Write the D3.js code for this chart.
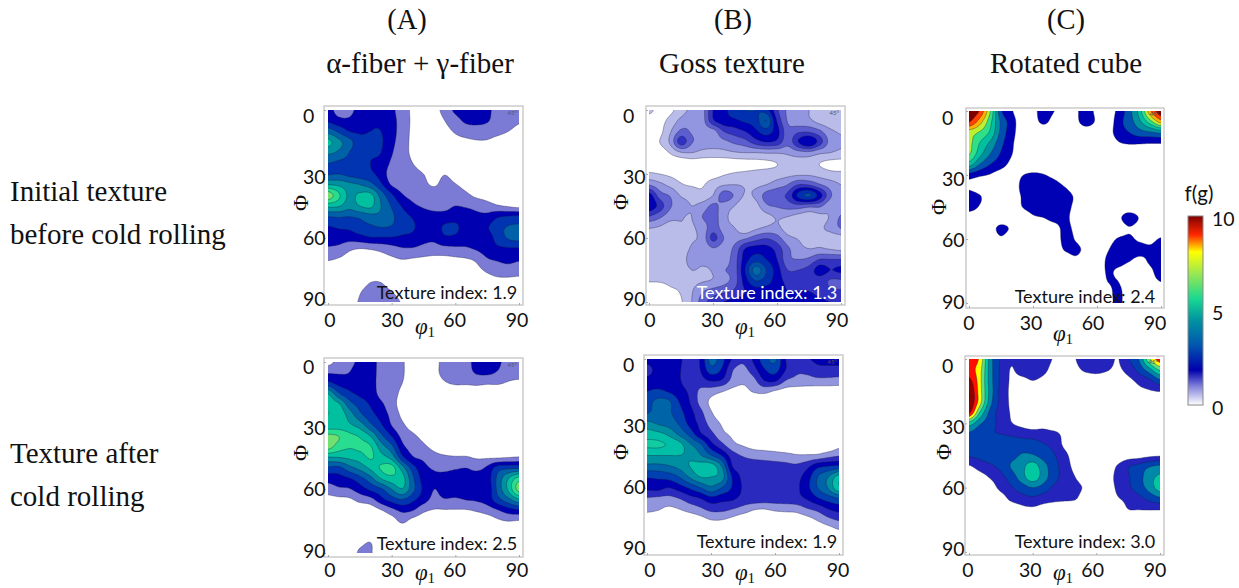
<!DOCTYPE html>
<html><head><meta charset="utf-8">
<script src="https://cdn.jsdelivr.net/npm/d3@7"></script>
<style>html,body{margin:0;background:#fff}svg{display:block}</style></head>
<body><svg id="c" width="1239" height="588"></svg>
<script>
// Contour-level readings on a 5 degree grid (rows: Phi 0..90, columns: phi1 0..90)
const gridA1=[
[2.3,1.7,1.7,2.4,2.7,2.6,2.2,1.5,.8,.5,.6,1.4,2.2,2.6,2.6,2.2,1.7,1.5,1.5],
[2.8,2.3,2.2,2.7,2.9,2.8,2.3,1.6,.8,.4,.4,1.0,1.6,2.2,2.3,2.1,1.5,1.3,1.1],
[4.6,3.8,3.0,2.9,3.0,3.0,2.4,1.5,.8,.4,.3,.7,1.1,1.4,1.5,1.4,1.2,1.0,.8],
[6.3,5.3,4.4,3.3,3.2,3.1,2.3,1.4,.8,.4,.3,.5,.7,.8,.9,.9,.7,.6,.5],
[5.2,4.8,4.0,3.2,3.1,3.0,2.1,1.2,.9,.4,.3,.3,.4,.5,.5,.5,.4,.4,.3],
[4.0,3.8,3.6,3.1,3.0,2.7,1.8,1.2,1.0,.6,.3,.3,.3,.3,.3,.3,.3,.3,.3],
[3.9,4.0,3.7,3.4,3.2,2.6,1.5,1.4,1.25,1.0,.6,.95,.6,.4,.3,.3,.3,.3,.3],
[6.0,5.8,5.3,5.0,4.4,3.2,1.9,1.5,1.4,1.2,.9,1.3,1.05,.7,.4,.3,.3,.3,.3],
[8.6,7.2,5.8,6.2,6.3,4.6,3.2,2.1,1.7,1.6,1.5,1.5,1.5,1.2,.8,.6,.4,.4,.4],
[6.3,6.1,5.4,6.0,6.2,5.0,3.9,2.9,2.2,1.9,1.8,1.8,2.0,1.9,1.7,1.4,1.1,.9,.7],
[4.0,4.1,4.0,4.2,4.6,4.7,4.2,3.4,2.9,2.4,2.2,2.3,2.4,2.4,2.2,2.3,2.9,3.1,3.2],
[2.9,3.1,3.2,3.6,3.8,4.0,3.9,3.4,3.1,2.6,2.4,3.2,3.3,2.3,2.3,2.9,3.6,4.1,4.2],
[2.3,2.5,2.4,2.6,2.9,2.9,2.9,2.8,2.7,2.3,2.2,2.8,2.7,2.2,2.2,2.5,3.4,4.1,4.3],
[1.9,1.7,1.2,1.0,1.1,1.3,1.6,1.9,1.9,1.7,1.6,1.7,1.8,1.9,2.1,2.5,2.8,2.9,2.9],
[1.1,.9,.6,.4,.4,.6,.8,1.0,.9,.8,.7,.7,.8,.9,1.2,1.9,2.1,2.2,2.1],
[.3,.3,.3,.3,.3,.3,.3,.3,.3,.3,.3,.3,.3,.3,.7,1.2,1.6,1.7,1.6],
[.3,.3,.3,.4,.9,.9,.4,.3,.3,.3,.3,.3,.3,.3,.3,.5,.7,.7,.6],
[.3,.3,.3,.9,1.4,1.4,1.0,.6,.3,.3,.3,.3,.3,.3,.3,.3,.3,.3,.3],
[.3,.3,.6,1.1,1.6,1.6,1.3,.9,.3,.3,.3,.3,.3,.3,.3,.3,.3,.3,.3]];
const gridB1=[
[1.2,.7,.8,1.5,2.3,2.6,5.0,5.7,6.5,7,7,6.5,4.2,2.8,2.4,2,1.5,1.4,1.5],
[.6,.7,1.3,2.3,2.8,2.6,4.8,5.6,5.8,6.2,6.5,8.0,4.9,2.9,2.3,2.2,1.6,1.3,1.5],
[.3,.7,1.9,3.2,2.9,2.6,2.6,4.0,4.5,5.0,5.8,6.5,5.4,3.4,3.8,3.8,3.2,2.2,1.9],
[.3,1.0,2.2,4.5,3.1,2.6,2.5,2.7,3.2,3.6,4.5,5.0,4.7,3.4,5,6,4.5,2.6,2.1],
[.2,.4,1.1,1.9,2.0,1.7,1.6,1.7,1.9,2.0,2.0,2.1,2.1,2.2,2.6,2.7,2.2,2.0,1.8],
[.2,.2,.3,.3,.4,.4,.4,.4,.5,.6,.7,.8,1.0,1.4,1.5,1.4,1.0,.7,.6],
[1.2,1.0,.8,.6,.5,.5,.6,.9,1.1,1.2,1.3,1.4,1.5,1.7,1.8,1.8,1.6,1.3,1.2],
[2.9,2.3,1.7,1.1,.9,.9,1.5,1.9,2.0,1.9,1.8,2.0,2.5,3.0,4.0,3.9,3.1,2.5,2.0],
[5.5,3.5,2.9,1.9,1.6,1.3,2.0,3.5,2.9,1.9,2.2,3.4,3.8,4.2,6.3,7.2,5.5,3.2,2.1],
[5.8,4.6,3.1,2.6,2.0,2.4,3.2,2.6,2.0,1.2,1.6,2.8,3.1,3.4,3.6,3.3,3.2,2.2,2.2],
[3.9,3.2,2.4,2.1,2.0,3.0,3.4,2.4,1.5,1.1,1.2,1.7,2.1,2.0,1.6,1.3,1.7,2.1,3.1],
[2.1,1.9,1.5,1.9,1.9,2.4,3.5,2.5,2.0,1.2,1.7,2.1,2.2,1.5,1.2,1.2,1.8,2.3,3.1],
[1.5,1.5,1.4,1.5,1.9,2.3,4.3,3.0,2.6,2.8,3.5,3.9,3.4,2.3,1.9,1.4,1.9,1.6,1.6],
[1.4,1.4,1.4,1.5,2.1,2.2,2.9,2.6,3.2,5.0,5.5,5.4,4.6,3.2,2.4,2.0,2.1,1.9,1.7],
[1.9,1.7,1.2,1.5,2.4,2.2,2.4,2.5,3.5,5.5,6.5,6.0,5.0,3.3,3.0,3.2,4.0,4.0,4.0],
[1.9,1.6,1.2,1.5,2.0,1.9,2.1,2.9,3.5,6,8.5,7,5.5,4.0,4.0,4.4,5.5,5.0,5.2],
[1.1,1.1,1.2,1.3,1.7,1.9,2.1,2.6,3.5,5.5,7,6.5,5.5,4.7,4.6,4.5,4.5,3.9,3.9],
[.3,.4,.8,1.1,1.9,2.9,3.4,3.8,4.2,5,5.5,5.5,5.5,5.0,5,5,4.7,4.2,4.1],
[.2,.2,.4,.9,2.0,3.5,4.5,5,5.3,5.3,5.3,5.3,5.3,5.3,5.3,5.3,5.2,5,5]];
const gridC1=[
[9.8,8.9,6,2.2,1.1,.4,.7,1.4,1.0,.4,.8,1.5,.7,.4,1.3,2.6,4.5,7.8,9.8],
[9.1,7.5,5.3,2.8,1.5,.4,.6,1.2,.6,.3,.7,1.5,.8,.3,1.6,2.5,3.8,5.6,7.5],
[6.5,5.9,4.8,2.7,1.4,.4,.3,.3,.3,.3,.3,.3,.3,.5,1.5,2.0,2.6,2.9,3.3],
[6.3,5.0,3.8,2.3,1.2,.3,.3,.3,.3,.3,.3,.3,.3,.3,.9,1.1,1.1,1.05,1.05],
[6.1,4.4,3.0,1.9,1.05,.3,.3,.3,.3,.3,.3,.3,.3,.3,.3,.3,.3,.3,.3],
[4.5,3,2.0,1.4,.7,.2,.2,.2,.2,.2,.2,.2,.2,.2,.2,.2,.2,.2,.2],
[1.6,1.2,.9,.5,.3,.95,1.2,1.05,.7,.2,.2,.2,.2,.2,.2,.2,.2,.2,.2],
[.7,.2,.2,.2,.2,1.3,1.6,1.5,1.4,.9,.3,.2,.2,.2,.2,.2,.2,.2,.2],
[1.6,1.1,.3,.2,.3,1.1,1.6,1.7,1.6,1.5,.8,.2,.2,.2,.2,.2,.2,.2,.2],
[1.5,.9,.3,.2,.2,1.0,1.5,1.7,1.6,1.4,.7,.2,.2,.2,.2,.2,.2,.2,.2],
[.3,.2,.2,.2,.2,.2,.8,1.0,1.4,1.3,.5,.2,.2,.2,.7,1.6,.9,.2,.2],
[.2,.2,.5,1.3,.8,.2,.2,.2,.5,1.3,.7,.2,.2,.2,.3,.9,.5,.2,.2],
[.2,.2,.2,.8,.2,.2,.2,.2,.2,1.4,.9,.2,.2,.5,1.1,1.2,.8,.7,1.1],
[.2,.2,.2,.2,.2,.2,.2,.2,.2,1.1,1.3,.6,.2,.9,1.6,1.6,1.4,1.2,1.6],
[.2,.2,.2,.2,.2,.2,.2,.2,.2,.2,.7,.2,.2,1.2,1.5,1.1,.7,1.2,1.5],
[.2,.2,.2,.2,.2,.2,.2,.2,.2,.2,.2,.2,.4,1.1,.8,.3,.3,.8,1.5],
[.2,.2,.2,.2,.2,.2,.2,.2,.2,.2,.2,.2,.2,1.0,1.0,.2,.2,.6,1.0],
[.2,.2,.2,.2,.2,.2,.2,.2,.2,.2,.2,.2,.2,.6,1.3,.2,.2,.2,.2],
[.2,.2,.2,.2,.2,.2,.2,.2,.2,.2,.2,.2,.2,.5,1.3,.2,.2,.2,.2]];
const gridA2=[
[.7,1.3,1.6,2.3,2.5,1.6,1.4,1.1,.5,.4,.7,1.3,1.5,1.7,2.3,2.6,2.2,1.6,1.5],
[1.9,1.9,2.0,2.7,2.5,1.6,1.4,1.1,.5,.4,.7,1.3,1.4,1.6,2.1,2.2,1.9,1.4,1.3],
[3.3,2.7,2.5,2.4,2.4,1.6,1.3,1.0,.5,.4,.5,.9,1.1,1.1,1.2,1.1,1.1,.9,.8],
[6.0,4.2,3.3,2.8,2.5,1.7,1.3,.8,.3,.3,.3,.3,.3,.3,.3,.3,.3,.3,.3],
[6.8,6.2,4.5,3.6,2.9,2.2,1.4,.6,.3,.3,.3,.3,.3,.3,.3,.3,.3,.3,.3],
[7,6.7,5.6,4.3,3.4,2.6,1.7,.8,.3,.3,.3,.3,.3,.3,.3,.3,.3,.3,.3],
[6.5,6.5,6.2,5.6,4.3,3.2,2.0,1.2,.6,.2,.2,.2,.2,.2,.2,.2,.2,.2,.2],
[8.3,8.0,7.3,6.9,6.0,4.3,3.0,1.7,1.2,.7,.2,.2,.2,.2,.2,.2,.2,.2,.2],
[8.4,7.5,7.1,7.2,7.1,5.5,4.3,2.3,1.6,1.2,.7,.3,.3,.3,.3,.3,.3,.3,.3],
[5.9,6,6.2,6.5,7.1,6.4,5.6,3.3,2.1,1.8,1.4,1.2,1.1,1.1,.9,.9,.9,1.0,1.1],
[3.8,3.7,4.6,5.3,6.2,7.1,7.4,5.5,3.5,2.3,1.9,1.8,1.9,2.0,1.8,2.2,3.5,3.8,3.9],
[2.4,2.6,2.9,3.6,4.6,6.0,6.6,6.4,4.2,2.6,2.2,2.3,2.5,2.5,2.4,2.5,4.3,6,7.5],
[1.5,1.8,1.9,2.5,3.2,3.8,5.0,5.9,4.3,2.8,2.0,2.4,2.6,2.6,2.4,2.3,4.3,6.2,8.4],
[.6,.7,.8,1.3,1.6,2.6,3.4,3.9,3.2,2.4,1.7,1.9,1.8,2.0,2.1,2.4,3.6,4.6,5.7],
[.2,.2,.2,.2,.4,.9,1.6,2.2,2.0,1.2,.9,.9,.9,.9,1.1,1.4,1.9,2.5,2.8],
[.2,.2,.2,.2,.2,.2,.5,1.2,.6,.3,.2,.2,.2,.2,.2,.4,.8,1.0,.9],
[.2,.2,.2,.2,.2,.2,.2,.2,.2,.2,.2,.2,.2,.2,.2,.2,.2,.2,.2],
[.2,.2,.2,.7,1.0,.2,.2,.2,.2,.2,.2,.2,.2,.2,.2,.2,.2,.2,.2],
[.2,.2,.2,1.2,1.1,.3,.2,.2,.2,.2,.2,.2,.2,.2,.2,.2,.2,.2,.2]];
const gridB2=[
[3.4,3.4,3.4,3.2,2.5,3.1,5.4,4.4,2.9,2.2,3.2,4.6,5.2,3.0,2.5,2.9,3.2,3.3,3.3],
[2.7,3.3,3.4,3.1,2.5,3.0,4.6,3.9,2.1,1.7,2.6,3.9,4.4,3.0,2.2,2.3,2.7,2.7,2.7],
[3.3,3.4,3.4,3.1,2.5,2.6,3.1,2.9,1.7,1.2,1.7,3.0,3.2,2.0,1.7,1.6,1.7,1.7,1.6],
[4.0,4.2,3.9,3.4,2.8,1.8,1.5,1.1,.7,.7,1.1,1.3,.9,.6,.5,.5,.4,.4,.4],
[4.6,5.3,5.2,4.0,3.0,1.7,.8,.3,.2,.2,.2,.2,.3,.2,.2,.2,.2,.2,.2],
[4.9,5.4,5.2,4.4,3.4,2.3,1.1,.5,.2,.2,.2,.2,.2,.2,.2,.2,.2,.2,.2],
[6.3,5.9,5.6,4.9,3.7,2.7,1.6,.9,.4,.2,.2,.2,.2,.2,.2,.2,.2,.2,.2],
[7.5,7.3,6.8,5.8,4.7,3.2,2.3,1.3,.8,.3,.2,.2,.2,.2,.2,.2,.2,.2,.2],
[8.2,8.2,7.9,7.4,6.2,5.2,3.4,2.3,1.3,.9,.6,.5,.4,.2,.2,.2,.2,.2,.7],
[7.0,7.0,7.0,7.0,6.8,6.1,5.1,4.0,2.5,1.9,1.6,1.5,1.4,1.3,1.1,1.1,1.2,1.6,1.9],
[5.7,5.7,5.9,6.3,7.0,7.4,7.5,6.0,3.0,2.7,2.6,2.5,2.4,2.3,2.2,2.7,3.7,4.0,4.2],
[4.1,4.2,4.4,5.0,6.1,7.0,7.0,6.5,3.9,2.8,2.7,2.7,2.7,2.7,2.7,3.5,5,6,7.5],
[3.3,3.4,3.0,3.5,4.2,5.0,5.8,5.0,3.9,2.9,2.8,2.8,2.8,2.8,2.8,3.7,5,6.1,7.8],
[1.9,1.8,1.7,2.0,2.6,3.0,3.7,3.4,3.2,2.7,2.7,2.6,2.6,2.6,2.7,3.1,3.9,4.5,5.0],
[1.3,1.1,.8,1.0,1.4,1.8,2.3,2.3,2.0,1.6,1.1,1.0,1.2,1.3,1.4,1.9,2.3,3,3.4],
[.3,.3,.3,.3,.3,.6,1.0,1.0,.7,.3,.3,.3,.3,.3,.3,.6,1.1,1.7,2.1],
[.2,.2,.2,.2,.2,.2,.2,.2,.2,.2,.2,.2,.2,.2,.2,.2,.2,.5,.9],
[.2,.2,.2,.2,.2,.2,.2,.2,.2,.2,.2,.2,.2,.2,.2,.2,.2,.2,.2],
[.2,.2,.2,.2,.2,.2,.2,.2,.2,.2,.2,.2,.2,.2,.2,.2,.2,.2,.2]];
const gridC2=[
[7.6,6.8,3.5,1.9,1.1,1.6,1.8,1.5,.9,.5,.95,1.7,1.9,1.5,.95,1.9,3,5.8,7.6],
[7.4,6.4,3.5,1.8,.95,1.5,1.7,1.3,.6,.4,.7,1.2,1.4,1.1,.8,1.4,2.3,3.6,5.2],
[8.3,6.4,3.5,1.8,.85,.7,1.0,.7,.3,.3,.3,.3,.3,.3,.3,.7,1.3,1.8,2.8],
[9,6.5,3.6,1.7,.8,.4,.2,.2,.2,.2,.2,.2,.2,.2,.2,.2,.7,.9,1.05],
[9,6.5,3.4,1.7,.8,.2,.2,.2,.2,.2,.2,.2,.2,.2,.2,.2,.2,.2,.2],
[8.2,5.0,2.7,1.6,.9,.4,.2,.2,.2,.2,.2,.2,.2,.2,.2,.2,.2,.2,.2],
[4.6,3.2,2.4,1.7,1.05,.7,.4,.6,.2,.2,.2,.2,.2,.2,.2,.2,.2,.2,.2],
[2.8,2.4,2.1,2.0,1.8,1.6,1.5,1.4,1.3,.7,.2,.2,.2,.2,.2,.2,.2,.2,.2],
[2.6,2.7,2.8,2.8,2.7,2.6,2.5,2.1,1.7,.8,.3,.2,.2,.2,.2,.2,.2,.2,.2],
[2.1,2.3,2.6,2.6,2.7,3.1,3.1,2.6,2.1,1.3,.5,.2,.2,.2,.2,.5,.6,.8,.9],
[.9,1.4,1.8,2.3,3.1,3.7,4.5,3.4,2.4,1.5,.7,.2,.2,.3,1.1,1.9,2.3,2.9,3.2],
[.3,.6,1.1,1.7,2.5,3.6,4.6,3.5,2.4,1.6,1.0,.4,.2,.5,1.3,1.9,2.6,3.6,4.2],
[.2,.2,.5,1.3,1.9,2.5,3.0,2.6,1.8,1.5,1.3,.8,.2,.4,1.2,1.8,2.5,3.4,4.5],
[.2,.2,.2,.5,1.3,1.6,1.8,1.5,1.3,1.2,1.1,.4,.2,.3,.9,1.3,1.7,2.3,2.8],
[.2,.2,.2,.2,.3,.7,.8,.6,.4,.3,.2,.2,.2,.2,.3,1.0,1.05,1.1,1.1],
[.2,.2,.2,.2,.2,.2,.2,.2,.2,.2,.2,.2,.2,.2,.2,.2,.2,.2,.2],
[.2,.2,.2,.2,.2,.2,.2,.2,.2,.2,.2,.2,.2,.2,.2,.2,.2,.2,.2],
[.2,.2,.2,.2,.2,.2,.2,.2,.2,.2,.2,.2,.2,.2,.2,.2,.2,.2,.2],
[.2,.2,.2,.2,.2,.2,.2,.2,.2,.2,.2,.2,.2,.2,.2,.2,.2,.2,.2]];
const tickValues=[0,30,60,90];
const columnTitles=["(A)","(B)","(C)"];
const columnSubtitles=["α-fiber + γ-fiber","Goss texture","Rotated cube"];
const rowLabels=[["Initial texture","before cold rolling"],["Texture after","cold rolling"]];
const textureIndex=["Texture index: 1.9","Texture index: 1.3","Texture index: 2.4","Texture index: 2.5","Texture index: 1.9","Texture index: 3.0"];
const barStops=[0,1,1.85,3.2,4.5,5.6,7,8.1,9,10];
const barColors=["#ffffff","#7f80da","#0000ac","#0058b0","#0094a0","#18d892","#9fe850","#ffff00","#ff2800","#800000"];
const bandsAlpha=['#7b7bd6','#0000b0','#0034b0','#0060a8','#0090a0','#00c0a0','#28dc90','#70e070','#a0e850'];
const bandsGoss1=['#b9bce8','#9295df','#5c5ecf','#3232c2','#0000b4','#0030b0','#0050a8','#006aa8','#0090a0'];
const bandsGoss2=['#9195de','#2a2abf','#0000b0','#0040b0','#0064a8','#008fa0','#00bfa6','#10cca0','#20d8a0'];
const bandsCube1=['#0000b4','#0050b0','#0090a0','#00c0a0','#30e088','#bcf030','#ffb000','#ff4000','#800000'];
const bandsCube2=['#2424bc','#0040b0','#0088a8','#00c8a0','#60e080','#ffff00','#ff1000','#900000','#800000'];

const panels=[
 {g:gridA1,b:bandsAlpha,t:0,fr:[324,106,523,305],d:[328,110,519,302],xl:[330,517],xy:320,yl:[116,299],yx:303,ph:[425,328],Ph:[300,203],ti:[447,293],tc:"#111"},
 {g:gridB1,b:bandsGoss1,t:1,fr:[646,106,845,305],d:[649,110,841,302],xl:[650,837],xy:320,yl:[116,299],yx:623,ph:[745,328],Ph:[620,202],ti:[767,293],tc:"#fff"},
 {g:gridC1,b:bandsCube1,t:2,fr:[966,108,1164,308],d:[969,111,1161,303],xl:[969,1155],xy:323,yl:[118,302],yx:942,ph:[1063,335],Ph:[938,207],ti:[1085,297],tc:"#111"},
 {g:gridA2,b:bandsAlpha,t:3,fr:[324,358,523,557],d:[328,362,519,553],xl:[330,517],xy:570,yl:[367,551],yx:303,ph:[425,574],Ph:[300,453],ti:[447,544],tc:"#111"},
 {g:gridB2,b:bandsGoss2,t:4,fr:[644,355,843,555],d:[647,359,839,552],xl:[650,838],xy:570,yl:[365,548],yx:623,ph:[745,574],Ph:[620,452],ti:[767,542],tc:"#111"},
 {g:gridC2,b:bandsCube2,t:5,fr:[965,356,1164,555],d:[969,359,1160,552],xl:[968,1155],xy:570,yl:[366,549],yx:942,ph:[1063,574],Ph:[943,452],ti:[1085,542],tc:"#111"}
];

const svg=d3.select("#c");
const SERIF="'Liberation Serif','Times New Roman',serif", SANS="Lato,'Open Sans',sans-serif";
const UP=8;
function cubic(p0,p1,p2,p3,t){return p1+.5*t*(p2-p0+t*(2*p0-5*p1+4*p2-p3+t*(3*(p1-p2)+p3-p0)));}
function upsample(g){
  const n=g.length,m=(n-1)*UP+1,out=new Float64Array(m*m);
  const at=(r,c)=>g[Math.max(0,Math.min(n-1,r))][Math.max(0,Math.min(n-1,c))];
  for(let j=0;j<m;j++){const rf=j/UP,r=Math.min(n-2,Math.floor(rf)),tr=rf-r;
    for(let i=0;i<m;i++){const cf=i/UP,c=Math.min(n-2,Math.floor(cf)),tc=cf-c;
      const col=[-1,0,1,2].map(dr=>cubic(at(r+dr,c-1),at(r+dr,c),at(r+dr,c+1),at(r+dr,c+2),tc));
      out[j*m+i]=cubic(col[0],col[1],col[2],col[3],tr);}}
  return {v:out,m};
}
panels.forEach((p,k)=>{
  const X=d3.scaleLinear().domain([0,90]).range([p.d[0],p.d[2]]);
  const Y=d3.scaleLinear().domain([0,90]).range([p.d[1],p.d[3]]);
  const XL=d3.scaleLinear().domain([0,90]).range(p.xl);
  const YL=d3.scaleLinear().domain([0,90]).range(p.yl);
  const {v,m}=upsample(p.g);
  const step=90/(m-1);
  const proj=d3.geoTransform({point(x,y){this.stream.point(X((x-.5)*step),Y((y-.5)*step));}});
  const path=d3.geoPath(proj);
  const thresholds=p.b.map((_,i)=>i+1);
  const cid="clip"+k;
  svg.append("clipPath").attr("id",cid).append("rect").attr("x",p.d[0]).attr("y",p.d[1]).attr("width",p.d[2]-p.d[0]).attr("height",p.d[3]-p.d[1]);
  const G=svg.append("g").attr("clip-path",`url(#${cid})`).style("filter","blur(0.35px)");
  G.selectAll("path").data(d3.contours().size([m,m]).thresholds(thresholds)(Array.from(v)))
    .join("path").attr("d",path).attr("fill",(d,i)=>p.b[i])
    .attr("stroke","#1a1a40").attr("stroke-opacity",.6).attr("stroke-width",.6);
  svg.append("rect").attr("x",p.fr[0]).attr("y",p.fr[1]).attr("width",p.fr[2]-p.fr[0]).attr("height",p.fr[3]-p.fr[1])
    .attr("fill","none").attr("stroke","#c8c8c8").attr("stroke-width",1.4);
  svg.append("g").attr("transform",`translate(0,${p.fr[3]})`).call(d3.axisTop(X).tickValues(tickValues).tickSize(2).tickFormat("")).call(a=>{a.select(".domain").remove();a.selectAll("line").attr("stroke","#aaa");});
  svg.append("g").attr("transform",`translate(${p.fr[0]},0)`).call(d3.axisRight(Y).tickValues(tickValues).tickSize(2).tickFormat("")).call(a=>{a.select(".domain").remove();a.selectAll("line").attr("stroke","#aaa");});
  svg.append("g").selectAll("text").data(tickValues).join("text").attr("x",d=>XL(d)).attr("y",p.xy).attr("dy",".35em")
    .attr("text-anchor","middle").attr("font-family",SANS).attr("font-size",19.5).attr("fill","#111").text(d=>d);
  svg.append("g").selectAll("text").data(tickValues).join("text").attr("x",p.yx).attr("y",d=>YL(d)).attr("dy",".35em")
    .attr("font-family",SANS).attr("font-size",19.5).attr("fill","#111").text(d=>d);
  const ph=svg.append("text").attr("x",p.ph[0]).attr("y",p.ph[1]+6).attr("text-anchor","middle").attr("font-family",SERIF).attr("font-size",23).attr("fill","#111");
  ph.append("tspan").attr("font-style","italic").text("φ");
  ph.append("tspan").attr("font-size",15).attr("dy",3).text("1");
  svg.append("text").attr("transform",`translate(${p.Ph[0]},${p.Ph[1]}) rotate(-90)`).attr("dy",".35em").attr("text-anchor","middle").attr("font-family",SERIF).attr("font-size",22).attr("fill","#111").text("Φ");
  svg.append("text").attr("x",p.ti[0]).attr("y",p.ti[1]).attr("dy",".35em").attr("text-anchor","middle").attr("font-family",SANS).attr("font-size",18).attr("fill",p.tc).text(textureIndex[p.t]);
  svg.append("text").attr("x",p.d[2]-2).attr("y",p.d[1]+5).attr("text-anchor","end").attr("font-family",SANS).attr("font-size",6).attr("fill","#555").text("45°");
});
const colX=[[407,420],[733,732],[1066,1066]];
columnTitles.forEach((t,i)=>{
  svg.append("text").attr("x",colX[i][0]).attr("y",29).attr("text-anchor","middle").attr("font-family",SERIF).attr("font-size",28.5).attr("fill","#111").text(t);
  svg.append("text").attr("x",colX[i][1]).attr("y",73).attr("text-anchor","middle").attr("font-family",SERIF).attr("font-size",29).attr("fill","#111").text(columnSubtitles[i]);
});
const rowY=[[201,244],[463,506]];
rowLabels.forEach((r,i)=>r.forEach((t,j)=>{
  svg.append("text").attr("x",10).attr("y",rowY[i][j]).attr("font-family",SERIF).attr("font-size",29).attr("fill","#111").text(t);
}));
const C=d3.scaleLinear().domain(barStops).range(barColors);
const BY=d3.scaleLinear().domain([0,10]).range([405,216]);
const grad=svg.append("defs").append("linearGradient").attr("id","bar").attr("x1",0).attr("x2",0).attr("y1",1).attr("y2",0);
barStops.forEach(s=>grad.append("stop").attr("offset",s/10).attr("stop-color",C(s)));
svg.append("rect").attr("x",1188).attr("y",BY(10)).attr("width",15).attr("height",BY(0)-BY(10)).attr("fill","url(#bar)").attr("stroke","#888").attr("stroke-width",1);
svg.append("g").selectAll("text").data([0,5,10]).join("text").attr("x",1212).attr("y",d=>BY(d)+3).attr("dy",".35em").attr("font-family",SANS).attr("font-size",19.5).attr("fill","#111").text(d=>d);
svg.append("text").attr("x",1199).attr("y",194).attr("dy",".35em").attr("text-anchor","middle").attr("font-family",SANS).attr("font-size",20.5).attr("fill","#111").text("f(g)");
</script></body></html>
